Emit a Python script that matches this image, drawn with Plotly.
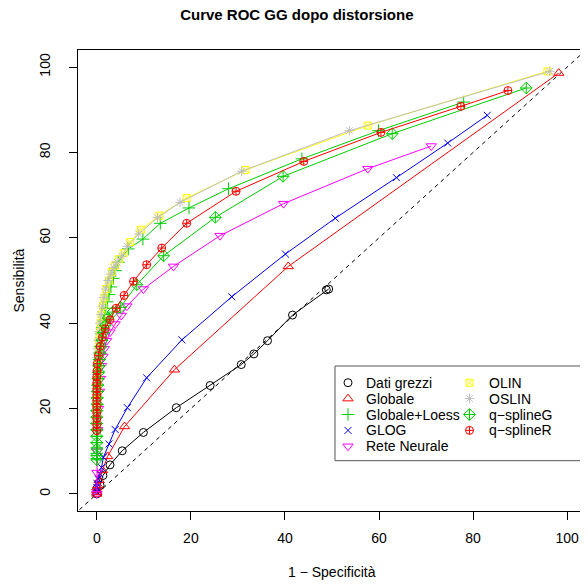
import plotly.graph_objects as go

# ROC curves, values (percent)
raw_x = [0, 0.7, 1.3, 2.8, 5.4, 9.9, 16.9, 24.1, 30.7, 33.4, 36.3, 41.6, 48.8, 49.3]
raw_y = [0, 2.0, 4.3, 6.8, 10.1, 14.4, 20.2, 25.4, 30.3, 32.8, 35.9, 41.9, 47.8, 48.0]

glob_x = [0, 0, 0, 0, 0.2, 0.5, 1.2, 2.3, 5.9, 16.5, 40.7, 98.2]
glob_y = [0, 0.4, 0.9, 1.5, 2.0, 3.2, 5.5, 8.8, 15.8, 29.1, 53.3, 98.6]

loess_x = [0, 0, 0, 0, 0, 0, 0, 0, 0.05, 0.1, 0.1, 0.15, 0.2, 0.25, 0.3, 0.4, 0.5, 0.6, 0.7,
           0.85, 1.0, 1.2, 1.4, 1.6, 1.9, 2.2, 2.6, 3.0, 3.5, 4.0, 4.6, 6.7, 9.8, 13.5, 19.6,
           28.0, 43.6, 59.9, 78.0]
loess_y = [8.3, 9.5, 10.8, 12, 13.5, 15, 16.5, 18, 19.5, 21, 22.5, 24, 25.5, 27, 28.5, 30,
           31.5, 33, 34.5, 36, 37.5, 39, 40.5, 42, 43.5, 45, 46.7, 48.5, 50.5, 52.3, 54.3,
           57.4, 59.7, 63.4, 67.0, 71.5, 78.5, 85.1, 91.8]

glog_x = [0, 0, 0, 0.3, 0.6, 1.0, 1.4, 2.6, 3.9, 6.5, 10.6, 18.1, 28.7, 40.1, 50.7, 63.7,
          74.6, 83.0]
glog_y = [0.5, 1.5, 2.5, 3.5, 4.7, 6.2, 8.6, 11.7, 15.1, 20.2, 27.2, 36.1, 46.2, 56.2,
          64.6, 74.1, 82.2, 88.7]

nn_x = [0, 0, 0.1, 0.2, 0.4, 0.6, 0.8, 1.0, 1.3, 1.6, 2.1, 2.8, 3.9, 5.2, 6.4, 9.9, 16.3,
        26.2, 39.7, 57.6, 71.1]
nn_y = [0, 5, 10, 15, 20, 24, 27, 30, 32.2, 34, 35.9, 37.9, 39.8, 41.8, 44, 48, 53.3,
        60.5, 68, 76.2, 81.5]

olin_x = [0, 0, 0.05, 0.1, 0.15, 0.2, 0.3, 0.4, 0.5, 0.65, 0.8, 1.0, 1.3, 1.6, 2.0, 2.6,
          3.2, 3.9, 4.7, 5.7, 7.1, 9.4, 13.3, 19.1, 31.6, 57.6, 95.8]
olin_y = [20, 22, 24, 26, 28, 30, 32, 34, 36, 38, 40, 42, 44, 46, 48, 50, 52, 53.5, 55,
          56.4, 59, 61.9, 65.2, 69.3, 75.9, 86.3, 99.0]

oslin_x = [0, 0, 0, 0, 0, 0, 0.05, 0.15, 0.3, 0.45, 0.65, 0.9, 1.2, 1.5, 1.9, 2.4, 3.0,
           3.6, 4.3, 5.3, 6.5, 8.9, 12.9, 17.7, 30.8, 53.7, 96.3]
oslin_y = [20, 22, 24, 26, 28, 30, 32, 34, 36, 38, 40, 42, 44, 46, 48, 50, 51.5, 53, 54.3,
           55.7, 58, 60.9, 64.7, 68.3, 75.6, 85.1, 99.0]

qg_x = [0, 0, 0, 0, 0, 0, 0, 0, 0, 0.05, 0.1, 0.15, 0.2, 0.3, 0.4, 0.5, 0.6, 0.75, 0.9,
        1.1, 1.4, 1.8, 2.4, 3.4, 5.0, 8.5, 14.2, 25.2, 39.6, 62.8, 91.3]
qg_y = [8, 9, 10.5, 12, 13.5, 15, 16.5, 18, 19.5, 21, 22.5, 24, 25.5, 27, 28.5, 30, 31.5,
        33, 34.5, 36, 37.8, 39.5, 41.2, 42.6, 43.7, 49.0, 55.8, 64.8, 74.4, 84.4, 95.1]

qr_x = [0, 0, 0, 0, 0, 0, 0, 0, 0, 0, 0.05, 0.1, 0.35, 0.7, 1.2, 1.8, 2.8, 4.1, 5.8, 7.8,
        10.6, 13.8, 19.1, 29.6, 44.0, 60.4, 77.4, 87.4]
qr_y = [14.8, 16.2, 17.6, 19, 20.4, 21.8, 23.2, 24.6, 26, 27.4, 28.8, 30.5, 32.4, 34.6,
        36.7, 38.7, 40.8, 43.5, 46.5, 49.8, 53.7, 57.6, 63.4, 70.9, 77.9, 84.7, 90.8, 94.5]

diag = [-10, 110]

series = [
    ("Dati grezzi", raw_x, raw_y, "black", "circle-open", 8),
    ("Globale", glob_x, glob_y, "#FF0000", "triangle-up-open", 9),
    ("Globale+Loess", loess_x, loess_y, "#00CD00", "cross-thin-open", 9),
    ("GLOG", glog_x, glog_y, "#0000FF", "x-thin-open", 7),
    ("Rete Neurale", nn_x, nn_y, "#FF00FF", "triangle-down-open", 9),
    ("OLIN", olin_x, olin_y, "#FFFF00", "square-x-open", 7),
    ("OSLIN", oslin_x, oslin_y, "#BEBEBE", "asterisk-open", 8),
    ("q\u2212splineG", qg_x, qg_y, "#00CD00", "diamond-cross-open", 9),
    ("q\u2212splineR", qr_x, qr_y, "#FF0000", "circle-cross-open", 8),
]

FONT = "Liberation Sans, Arial, Helvetica, sans-serif"

# the page body adds an 8px offset, so the figure is 8px smaller and margins 8px tighter
fig = go.Figure()
fig.add_trace(go.Scatter(x=diag, y=diag, mode="lines", showlegend=False, hoverinfo="skip",
                         line=dict(color="black", width=1, dash="4px,4px")))

for name, xs, ys, col, sym, sz in series:
    fig.add_trace(go.Scatter(x=xs, y=ys, mode="lines+markers", name=name, showlegend=False,
                             line=dict(color=col, width=1),
                             marker=dict(symbol=sym, size=sz, color=col, line=dict(width=1, color=col))))

# R-style legend box: two columns of symbols, drawn on a pixel-scaled overlay axis
L_ROW0, L_DY = 382.7, 15.9
L_COLS = [(348, 364), (469.5, 487)]
annotations = []
for i, (name, xs, ys, col, sym, sz) in enumerate(series):
    c, r = (0, i) if i < 5 else (1, i - 5)
    sx, tx = L_COLS[c]
    yy = L_ROW0 + r * L_DY
    fig.add_trace(go.Scatter(x=[sx], y=[yy], xaxis="x2", yaxis="y2", mode="markers",
                             showlegend=False, hoverinfo="skip", cliponaxis=False,
                             marker=dict(symbol=sym, size=sz, color=col, line=dict(width=1, color=col))))
    annotations.append(dict(text=name, xref="x2", yref="y2", x=tx, y=yy, xanchor="left",
                            yanchor="middle", showarrow=False, font=dict(size=14)))

axis = dict(showline=True, linecolor="black", linewidth=1, mirror=True, ticks="outside",
            ticklen=8, tickcolor="black", showgrid=False, zeroline=False, automargin=False,
            tickfont=dict(size=14, color="black"), range=[-4, 104],
            tickvals=[0, 20, 40, 60, 80, 100])

annotations += [
    dict(text="1 \u2212 Specificit\u00e0", xref="paper", yref="paper", x=0.5, y=0,
         yshift=-61, showarrow=False, font=dict(size=14), yanchor="middle"),
    dict(text="Sensibilit\u00e0", xref="paper", yref="paper", x=0, y=0.5, xshift=-60,
         showarrow=False, font=dict(size=14), textangle=-90, xanchor="center"),
]

fig.update_layout(
    width=580, height=577,
    margin=dict(l=70, r=2, t=42, b=74),
    paper_bgcolor="white", plot_bgcolor="white",
    font=dict(family=FONT, color="black", size=14),
    showlegend=False,
    title=dict(text="<b>Curve ROC GG dopo distorsione</b>", x=0.498, xanchor="center",
               y=0.988, yanchor="middle", font=dict(size=15)),
    xaxis=dict(axis, ticklabelstandoff=6),
    yaxis=dict(axis, tickangle=-90, ticklabelstandoff=13),
    xaxis2=dict(overlaying="x", range=[78, 586], visible=False, automargin=False),
    yaxis2=dict(overlaying="y", range=[511, 50], visible=False, automargin=False),
    shapes=[dict(type="rect", xref="x2", yref="y2", x0=335, x1=586.5, y0=366, y1=460.7,
                 line=dict(color="#555555", width=1), layer="above")],
    annotations=annotations,
)

fig.write_html("out.html")
